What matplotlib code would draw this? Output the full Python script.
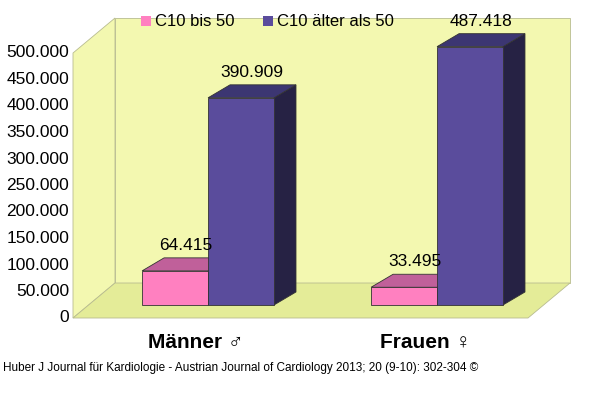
import matplotlib
matplotlib.use("Agg")
import matplotlib.pyplot as plt
from matplotlib.patches import Polygon
from matplotlib.transforms import IdentityTransform

categories = ["Männer ♂", "Frauen ♀"]
series_names = ["C10 bis 50", "C10 älter als 50"]
bis50 = [64415, 33495]
ueber50 = [390909, 487418]
yticks = [0, 50000, 100000, 150000, 200000, 250000, 300000, 350000, 400000, 450000, 500000]

FAM = ["Liberation Sans", "DejaVu Sans"]
W, H = 600, 419
fig = plt.figure(figsize=(6, 4.19), dpi=100)
ax = fig.add_axes([75 / W, (H - 305) / H, 455 / W, 265 / H])
ax.set_xlim(-0.581, 1.406)
ax.set_ylim(0, 500000)
ax.axis("off")

def P(x, y, dx=0, dy=0):
    px, py = ax.transData.transform((x, y))
    return (px + dx, py + dy)

def poly(pts, fc, ec="#333333", lw=0.6, z=1):
    fig.patches.append(Polygon(pts, closed=True, facecolor=fc, edgecolor=ec, lw=lw,
                               transform=IdentityTransform(), zorder=z, figure=fig))

x0, x1 = -0.581, 1.406
FD = (-2, -13)
BD = (40, 22)
BAR = (22, 13)
wall = "#f3f8b0"
floorc = "#e4ec98"
poly([P(x0, 0, *BD), P(x1, 0, *BD), P(x1, 500000, *BD), P(x0, 500000, *BD)], wall, ec="#b8bc90")
poly([P(x0, 0, *FD), P(x0, 0, *BD), P(x0, 500000, *BD), P(x0, 500000, *FD)], wall, ec="#b8bc90")
poly([P(x0, 0, *FD), P(x1, 0, *FD), P(x1, 0, *BD), P(x0, 0, *BD)], floorc, ec="#b8bc90")

bw = 0.288
cols = [("#ff80c0", "#c0609a", "#a04880"), ("#5a4c9c", "#3c3672", "#262244")]
for i in range(len(categories)):
    for s, vals in enumerate([bis50, ueber50]):
        xl = i - bw if s == 0 else i
        xr = xl + bw
        v = vals[i]
        fc, tc, sc = cols[s]
        poly([P(xr, 0), P(xr, 0, *BAR), P(xr, v, *BAR), P(xr, v)], sc, z=2)
        poly([P(xl, v), P(xr, v), P(xr, v, *BAR), P(xl, v, *BAR)], tc, z=2)
        poly([P(xl, 0), P(xr, 0), P(xr, v), P(xl, v)], fc, z=3)
        lx, ly = P((xl + xr) / 2, v, 11, 18)
        fig.text(lx / W, ly / H, f"{v:,}".replace(",", "."), ha="center", va="bottom",
                 fontsize=12.5, family=FAM)
    cx, cy = P(i, 0)
    fig.text((cx - 12) / W, (cy - 38) / H, categories[i], ha="center", va="center",
             fontsize=15, fontweight="bold", family=FAM)

for t in yticks:
    px, py = P(x0, t)
    fig.text(69 / W, (py - 13) / H, f"{t:,}".replace(",", ".") if t else "0",
             ha="right", va="center", fontsize=12.5, family=FAM)

for (lx, name, c) in [(141, series_names[0], cols[0][0]), (263, series_names[1], cols[1][0])]:
    fig.patches.append(plt.Rectangle((lx / W, (H - 26) / H), 10 / W, 10 / H, transform=fig.transFigure,
                                     facecolor=c, edgecolor="none", zorder=5, figure=fig))
    fig.text((lx + 14) / W, (H - 21) / H, name, va="center", ha="left", fontsize=12, family=FAM)

fig.text(3 / W, (H - 368) / H,
         "Huber J Journal für Kardiologie - Austrian Journal of Cardiology 2013; 20 (9-10): 302-304 ©",
         fontsize=8.5, va="center", family=FAM)
fig.savefig("out.png", dpi=100)
